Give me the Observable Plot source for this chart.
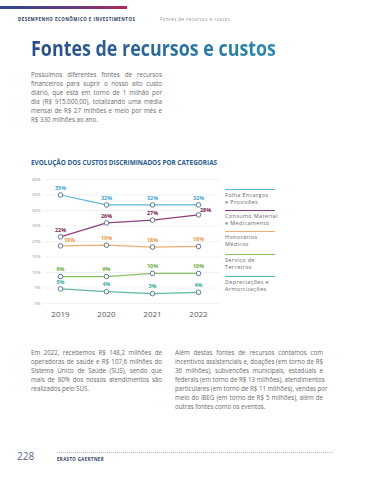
<!DOCTYPE html>
<html><head><meta charset="utf-8">
<script src="https://cdn.jsdelivr.net/npm/d3@7"></script>
<script src="https://cdn.jsdelivr.net/npm/@observablehq/plot@0.6"></script>
<style>
html,body{margin:0;padding:0;background:#fff;}
#page{position:relative;width:367px;height:480px;overflow:hidden;font-family:"Open Sans",sans-serif;}
.abs{position:absolute;white-space:nowrap;}
.para div{text-align:justify;text-align-last:justify;white-space:nowrap;}
.para div.last{text-align-last:left;}
.para{position:absolute;color:#6a6a6a;font-size:6.2px;line-height:9px;}
.leg{position:absolute;left:225px;width:50px;}
.leg .ln{height:1.3px;}
.leg .tx{font-size:5.5px;line-height:6.6px;color:#6a6a6a;letter-spacing:0.35px;margin-top:2px;white-space:nowrap;}
</style></head>
<body><div id="page">
<div class="abs" style="left:0;top:6px;width:127px;height:2.5px;background:linear-gradient(90deg,#2b4a8c,#6a3a7c 60%,#b0285a);"></div>
<div class="abs" style="left:18px;top:16px;font-size:4.4px;font-weight:700;color:#2a3a5a;letter-spacing:0.5px;">DESEMPENHO ECONÔMICO E INVESTIMENTOS</div>
<div class="abs" style="left:160px;top:16px;font-size:4.4px;color:#8a8a8a;letter-spacing:0.5px;">Fontes de recursos e custos</div>
<div id="title" class="abs" style="left:31px;top:35px;font-size:21px;font-weight:700;line-height:26px;background:linear-gradient(90deg,#2a4a8a,#2a8aaa);-webkit-background-clip:text;background-clip:text;color:transparent;transform-origin:0 0;">Fontes de recursos e custos</div>
<div class="para" id="p1" style="left:31px;top:70px;width:131px;"></div>
<div class="abs" style="left:31px;top:158px;font-size:6.4px;font-weight:700;color:#2a5a8a;">EVOLUÇÃO DOS CUSTOS DISCRIMINADOS POR CATEGORIAS</div>
<div id="chart" class="abs" style="left:0;top:170px;"></div>
<div id="legend"></div>
<div class="para" id="p2" style="left:31px;top:348px;width:131px;"></div>
<div class="para" id="p3" style="left:175px;top:348px;width:148px;"></div>
<div class="abs" style="left:17px;top:449px;font-size:10px;color:#5a6a8a;">228</div>
<div class="abs" style="left:57px;top:452px;width:275px;border-top:0.7px dotted #b8bcc8;"></div>
<div class="abs" style="left:57px;top:456px;font-size:4.4px;font-weight:700;color:#2a3a5a;letter-spacing:0.4px;">ERASTO GAERTNER</div>
</div>
<script>
const years = [2019, 2020, 2021, 2022];
const seriesNames = ["Folha Encargos e Provisões", "Consumo Material e Medicamento", "Honorários Médicos", "Serviço de Terceiros", "Depreciações e Armortizações"];
const legendLines = [["Folha Encargos", "e Provisões"], ["Consumo Material", "e Medicamento"], ["Honorários", "Médicos"], ["Serviço de", "Terceiros"], ["Depreciações e", "Armortizações"]];
const folha = [35, 31.8, 31.8, 31.8];
const consumo = [21.5, 26, 26.9, 28.6];
const honorarios = [18.6, 18.8, 18.2, 18.4];
const servico = [8.7, 8.7, 9.7, 9.7];
const depreciacoes = [4.7, 3.8, 3.2, 3.6];
const folhaLabels = ["35%", "32%", "32%", "32%"];
const consumoLabels = ["22%", "26%", "27%", "28%"];
const honorariosLabels = ["18%", "19%", "18%", "18%"];
const servicoLabels = ["9%", "9%", "10%", "10%"];
const depreciacoesLabels = ["5%", "4%", "3%", "4%"];
const yTicks = [0, 5, 10, 15, 20, 25, 30, 35, 40];
const lineColors = ["#5bb8dc", "#8e3f7e", "#f0ad72", "#86c160", "#5ab8a4"];
const labelColors = ["#3aa6d4", "#7a1d55", "#ea9a4e", "#6aab3c", "#3aa896"];

const paragraph1 = ["Possuímos diferentes fontes de recursos","financeiros para suprir o nosso alto custo","diário, que está em torno de 1 milhão por","dia (R$ 915.000,00), totalizando uma média","mensal de R$ 27 milhões e meio por mês e","R$ 330 milhões ao ano."];
const paragraph2 = ["Em 2022, recebemos R$ 148,2 milhões de","operadoras de saúde e R$ 107,6 milhões do","Sistema Único de Saúde (SUS), sendo que","mais de 80% dos nossos atendimentos são","realizados pelo SUS."];
const paragraph3 = ["Além destas fontes de recursos contamos com","incentivos assistenciais e, doações (em torno de R$","36 milhões), subvencões municipais, estaduais e","federais (em torno de R$ 13 milhões), atendimentos","particulares (em torno de R$ 11 milhões), vendas por","meio do IBEG (em torno de R$ 5 milhões), além de","outras fontes como os eventos."];

function fill(id, lines){
  const el = document.getElementById(id);
  lines.forEach((l,i)=>{const d=document.createElement("div");d.textContent=l;if(i===lines.length-1)d.className="last";el.appendChild(d);});
}
fill("p1", paragraph1); fill("p2", paragraph2); fill("p3", paragraph3);

const t = document.getElementById("title");
const tw = t.getBoundingClientRect().width;
t.style.transform = `scaleX(${245/tw})`;

const allValues = [folha, consumo, honorarios, servico, depreciacoes];
const allLabels = [folhaLabels, consumoLabels, honorariosLabels, servicoLabels, depreciacoesLabels];
const data = [];
allValues.forEach((vals, s) => vals.forEach((v, i) => data.push({series: s, year: years[i], value: v, label: allLabels[s][i]})));

const chart = Plot.plot({
  width: 230, height: 150,
  marginLeft: 45, marginRight: 10, marginTop: 9, marginBottom: 17,
  style: {fontFamily: "Open Sans, sans-serif", background: "transparent"},
  x: {type: "linear", domain: [2018.674, 2022.478], axis: null},
  y: {domain: [0, 40], axis: null},
  marks: [
    Plot.ruleY(yTicks, {stroke: "#ececec", strokeWidth: 0.7}),
    Plot.text(yTicks, {x: 2018.674, y: d => d, text: d => d + "%", textAnchor: "end", dx: -5, fontSize: 4.3, fill: "#8a8a8a"}),
    Plot.text(years, {x: d => d, y: 0, text: d => String(d), dy: 11, fontSize: 8, fill: "#5a5a5a", letterSpacing: 0.5}),
    Plot.line(data, {x: "year", y: "value", z: "series", stroke: d => lineColors[d.series], strokeWidth: 1.2}),
    Plot.dot(data, {x: "year", y: "value", r: 2.3, fill: "white", stroke: "#4f6a8c", strokeWidth: 0.9}),
    ...[0,1,2,3,4].map(s => Plot.text(data.filter(d => d.series === s && !(s===2 && d.year===2019) && !(s===1 && d.year===2022)), {x: "year", y: "value", text: "label", dy: -7, fontSize: 5.4, fontWeight: 700, fill: labelColors[s]})),
    Plot.text(data.filter(d => d.series === 2 && d.year === 2019), {x: "year", y: "value", text: "label", dx: 9, dy: -6, fontSize: 5.4, fontWeight: 700, fill: labelColors[2]}),
    Plot.text(data.filter(d => d.series === 1 && d.year === 2022), {x: "year", y: "value", text: "label", dx: 7, dy: -5, fontSize: 5.4, fontWeight: 700, fill: labelColors[1]})
  ]
});
document.getElementById("chart").appendChild(chart);

const legendTops = [189, 210, 231, 254, 276];
const lg = document.getElementById("legend");
legendLines.forEach((lines, i) => {
  const d = document.createElement("div");
  d.className = "leg";
  d.style.top = legendTops[i] + "px";
  d.innerHTML = `<div class="ln" style="background:${lineColors[i]}"></div><div class="tx">${lines[0]}<br>${lines[1]}</div>`;
  lg.appendChild(d);
});
</script>
</body></html>
